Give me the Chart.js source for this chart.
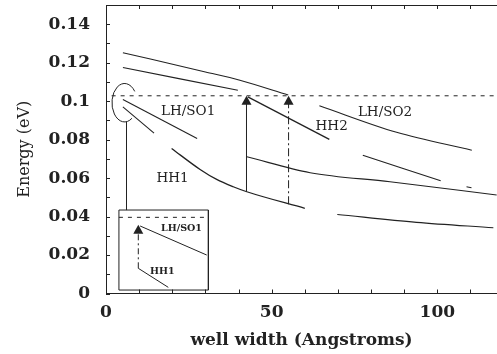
<!DOCTYPE html>
<html><head><meta charset="utf-8">
<script src="https://cdn.jsdelivr.net/npm/chart.js@4"></script>
<style>html,body{margin:0;padding:0;background:#fff}</style>
</head><body>
<canvas id="c" width="497" height="354" style="display:block;width:497px;height:354px"></canvas>
<script>
// ---- data (x: well width in Angstroms, y: energy in eV) ----
const X_TICKS = [0, 50, 100];
const X_TICK_LABELS = ['0', '50', '100'];
const Y_TICKS = [0, 0.02, 0.04, 0.06, 0.08, 0.1, 0.12, 0.14];
const Y_TICK_LABELS = ['0', '0.02', '0.04', '0.06', '0.08', '0.1', '0.12', '0.14'];
const X_MINOR = [10, 20, 30, 40, 60, 70, 80, 90, 110];
const Y_MINOR = [0.01, 0.03, 0.05, 0.07, 0.09, 0.11, 0.13];

const CURVE_TOP1 = [[5.1, 0.1252], [30, 0.1152], [40.4, 0.1109], [55.0, 0.1032]];
const CURVE_TOP2 = [[5.1, 0.1175], [22, 0.1117], [39.8, 0.1057]];
const LH_SO1 = [[5.1, 0.1009], [27.5, 0.0806]];
const LH_SO1_B = [[5.1, 0.0970], [14.5, 0.0834]];
const HH1 = [[19.8, 0.0754], [28.4, 0.0645], [33.4, 0.0593], [38.4, 0.0555], [42.5, 0.0529], [60.0, 0.0443]];
const HH2 = [[42.8, 0.1022], [67.4, 0.0801]];
const LH_SO2 = [[64.4, 0.0976], [87.7, 0.0838], [110.4, 0.0745]];
const CURVE_MID = [[42.5, 0.0711], [61.6, 0.0628], [85.7, 0.0581], [117.9, 0.0512]];
const CURVE_MID2 = [[77.5, 0.0719], [89.2, 0.0653], [101.0, 0.0586], [104, null], [108.8, 0.0555], [110.3, 0.0550]];
const CURVE_LOW = [[69.8, 0.0411], [93.7, 0.0370], [116.9, 0.0342]];
const THRESHOLD = [[1.7, 0.1028], [118, 0.1028]];
const ARROW1 = [[42.4, 0.0529], [42.4, 0.1000]];
const ARROW2 = [[55.1, 0.0464], [55.1, 0.1000]];
const ARROW_TIPS = [[42.4, 0.1028], [55.1, 0.1028], [9.75, 0.0358]];
const CONNECTOR = [[6.19, 0.0892], [6.19, 0.0434]];
const ELLIPSE = {cx: 5.6, cy: 0.0992, rx: 3.8, ry: 0.0100};
// inset (zoomed view of the ellipse region)
const INSET_BOX = [[3.9, 0.0434], [30.9, 0.0434], [30.9, 0.0018], [3.9, 0.0018], [3.9, 0.0434]];
const INSET_THRESHOLD = [[3.9, 0.0396], [30.9, 0.0396]];
const INSET_ARROW = [[9.75, 0.0131], [9.75, 0.0340]];
const INSET_LH_SO1 = [[10.3, 0.0351], [30.4, 0.0200]];
const INSET_HH1 = [[9.75, 0.0131], [18.8, 0.0032]];
const LABELS = [
  {text: 'LH/SO1', x: 24.8, y: 0.0947, size: 13.5, bold: false},
  {text: 'HH1', x: 20.1, y: 0.0600, size: 13.5, bold: false},
  {text: 'HH2', x: 68.1, y: 0.0867, size: 13.5, bold: false},
  {text: 'LH/SO2', x: 84.2, y: 0.0939, size: 13.5, bold: false},
  {text: 'LH/SO1', x: 22.8, y: 0.0339, size: 9.5, bold: true},
  {text: 'HH1', x: 17.0, y: 0.0113, size: 9.5, bold: true}
];

const INK = '#222';
const pts = arr => arr.map(p => ({x: p[0], y: p[1]}));
function ds(arr, opts) {
  return Object.assign({
    data: pts(arr), borderColor: INK, borderWidth: 1.1, pointRadius: 0,
    fill: false, tension: 0, spanGaps: false
  }, opts || {});
}
const smooth = {cubicInterpolationMode: 'monotone'};

const deco = {
  id: 'deco',
  afterDatasetsDraw(chart) {
    const {ctx, chartArea: a, scales: {x, y}} = chart;
    ctx.save();
    ctx.strokeStyle = INK; ctx.fillStyle = INK; ctx.lineWidth = 1;
    // top frame line
    ctx.beginPath();
    ctx.moveTo(a.left, Math.round(a.top) + 0.5); ctx.lineTo(a.right, Math.round(a.top) + 0.5);
    ctx.stroke();
    // inward ticks
    ctx.beginPath();
    X_TICKS.concat(X_MINOR).forEach(v => {
      const px = Math.round(x.getPixelForValue(v)) + 0.5;
      ctx.moveTo(px, a.bottom); ctx.lineTo(px, a.bottom - 4);
      ctx.moveTo(px, a.top); ctx.lineTo(px, a.top + 4);
    });
    Y_TICKS.concat(Y_MINOR).forEach(v => {
      const py = Math.round(y.getPixelForValue(v)) + 0.5;
      ctx.moveTo(a.left, py); ctx.lineTo(a.left + 4, py);
    });
    ctx.stroke();
    // arrow heads
    ARROW_TIPS.forEach(t => {
      const px = x.getPixelForValue(t[0]), py = y.getPixelForValue(t[1]);
      ctx.beginPath();
      ctx.moveTo(px, py); ctx.lineTo(px - 5, py + 9); ctx.lineTo(px + 5, py + 9); ctx.closePath();
      ctx.fill();
    });
    // ellipse (open on the right)
    const cx = x.getPixelForValue(ELLIPSE.cx), cy = y.getPixelForValue(ELLIPSE.cy);
    const rx = Math.abs(x.getPixelForValue(ELLIPSE.cx + ELLIPSE.rx) - cx);
    const ry = Math.abs(y.getPixelForValue(ELLIPSE.cy + ELLIPSE.ry) - cy);
    ctx.beginPath();
    ctx.ellipse(cx, cy, rx, ry, 0, 0.3 * Math.PI, 1.8 * Math.PI);
    ctx.stroke();
    // text labels
    ctx.textAlign = 'center'; ctx.textBaseline = 'middle';
    LABELS.forEach(l => {
      ctx.font = (l.bold ? 'bold ' : '') + l.size + 'px "DejaVu Serif"';
      ctx.fillText(l.text, x.getPixelForValue(l.x), y.getPixelForValue(l.y));
    });
    ctx.restore();
  }
};

new Chart(document.getElementById('c'), {
  type: 'line',
  data: {
    datasets: [
      ds(CURVE_TOP1, smooth),
      ds(CURVE_TOP2),
      ds(LH_SO1),
      ds(LH_SO1_B),
      ds(HH1, Object.assign({borderWidth: 1.3}, smooth)),
      ds(HH2, {borderWidth: 1.3}),
      ds(LH_SO2, smooth),
      ds(CURVE_MID, smooth),
      ds(CURVE_MID2, smooth),
      ds(CURVE_LOW, smooth),
      ds(THRESHOLD, {borderDash: [4, 5], borderWidth: 1}),
      ds(ARROW1, {borderWidth: 1}),
      ds(ARROW2, {borderDash: [8, 3, 2, 3], borderWidth: 1}),
      ds(CONNECTOR, {borderWidth: 1}),
      ds(INSET_BOX, {borderWidth: 1}),
      ds(INSET_THRESHOLD, {borderDash: [4, 5], borderWidth: 1}),
      ds(INSET_ARROW, {borderDash: [6, 3, 2, 3], borderWidth: 1}),
      ds(INSET_LH_SO1, {borderWidth: 1}),
      ds(INSET_HH1, {borderWidth: 1})
    ]
  },
  options: {
    responsive: false, animation: false, devicePixelRatio: 1,
    layout: {padding: {top: 5, right: 0, left: 0, bottom: 0}},
    plugins: {legend: {display: false}, tooltip: {enabled: false}},
    scales: {
      x: {
        type: 'linear', min: 0, max: 118,
        afterFit: s => { s.height = 60.5; s.paddingLeft = 0; s.paddingRight = 0; },
        afterBuildTicks: s => { s.ticks = X_TICKS.map(v => ({value: v})); },
        grid: {display: false},
        border: {display: true, color: INK, width: 1},
        ticks: {
          color: INK, padding: 1, maxRotation: 0, autoSkip: false,
          font: {family: '"DejaVu Serif"', size: 17, weight: 'bold'},
          callback: v => X_TICK_LABELS[X_TICKS.indexOf(v)]
        },
        title: {display: true, text: 'well width (Angstroms)', color: INK,
          font: {family: '"DejaVu Serif"', size: 17, weight: 'bold'}, padding: {top: 0, bottom: 3}}
      },
      y: {
        type: 'linear', min: 0, max: 0.15,
        afterFit: s => { s.width = 106; s.paddingTop = 0; s.paddingBottom = 0; },
        afterBuildTicks: s => { s.ticks = Y_TICKS.map(v => ({value: v})); },
        grid: {display: false},
        border: {display: true, color: INK, width: 1},
        ticks: {
          color: INK, padding: 8, autoSkip: false,
          font: {family: '"DejaVu Serif"', size: 17, weight: 'bold'},
          callback: v => Y_TICK_LABELS[Y_TICKS.indexOf(v)]
        },
        title: {display: true, text: 'Energy (eV)', color: INK,
          font: {family: '"DejaVu Serif"', size: 16}, padding: {top: 15, bottom: 0}}
      }
    }
  },
  plugins: [deco]
});
</script>
</body></html>
